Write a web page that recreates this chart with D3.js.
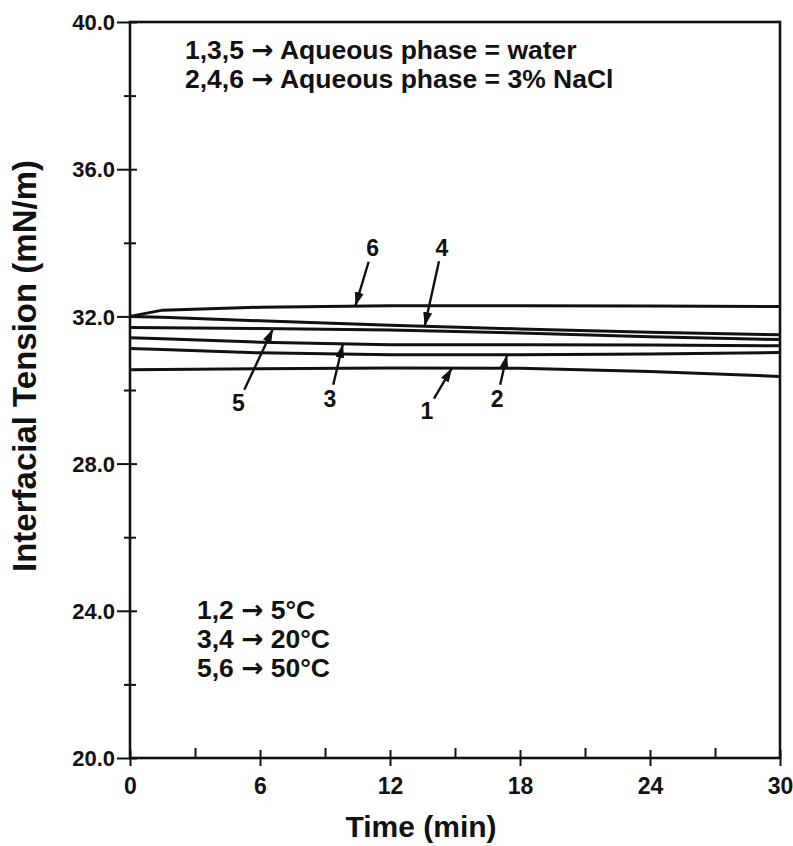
<!DOCTYPE html>
<html>
<head>
<meta charset="utf-8">
<script src="https://cdn.jsdelivr.net/npm/d3@7"></script>
<style>
  body { margin: 0; background: #fff; }
  text { font-family: "Liberation Sans", Arial, sans-serif; font-weight: bold; fill: #111; }
</style>
</head>
<body>
<script>
// time points (min)
const times = [0, 1.5, 6, 12, 18, 24, 30]
// interfacial tension (mN/m) per curve
const curve1 = [30.55, 30.56, 30.58, 30.60, 30.59, 30.50, 30.37]
const curve2 = [31.13, 31.10, 31.01, 30.96, 30.96, 30.98, 31.02]
const curve3 = [31.42, 31.39, 31.30, 31.23, 31.23, 31.22, 31.20]
const curve4 = [32.00, 31.98, 31.88, 31.76, 31.66, 31.57, 31.50]
const curve5 = [31.70, 31.69, 31.67, 31.63, 31.55, 31.45, 31.37]
const curve6 = [32.00, 32.17, 32.25, 32.29, 32.29, 32.28, 32.27]
const curves = [curve1, curve2, curve3, curve4, curve5, curve6]

// curve labels with arrows: tip time on the curve, label position (time, value)
const labelNames = ["1", "2", "3", "4", "5", "6"]
const tipTimes = [14.86, 17.4, 9.83, 13.6, 6.6, 10.4]
const labelTimes = [13.7, 16.94, 9.23, 14.4, 5.0, 11.2]
const labelValues = [29.44, 29.77, 29.77, 33.87, 29.66, 33.85]

const xMajor = [0, 6, 12, 18, 24, 30]
const xMinor = [3, 9, 15, 21, 27]
const yMajor = [20, 24, 28, 32, 36, 40]
const yMinor = [22, 26, 30, 34, 38]

const topNotes = ["1,3,5 \u2192 Aqueous phase = water", "2,4,6 \u2192 Aqueous phase = 3% NaCl"]
const bottomNotes = ["1,2 \u2192 5\u00B0C", "3,4 \u2192 20\u00B0C", "5,6 \u2192 50\u00B0C"]

const width = 793, height = 846
const margin = { top: 22, right: 13, bottom: 88, left: 130 }

const svg = d3.select("body").append("svg")
    .attr("width", width)
    .attr("height", height)

const x = d3.scaleLinear().domain([0, 30]).range([margin.left, width - margin.right])
const y = d3.scaleLinear().domain([20, 40]).range([height - margin.bottom, margin.top])

svg.append("defs").append("marker")
    .attr("id", "head")
    .attr("markerUnits", "userSpaceOnUse")
    .attr("viewBox", "0 -6 14 12")
    .attr("refX", 14).attr("refY", 0)
    .attr("markerWidth", 14).attr("markerHeight", 12)
    .attr("orient", "auto")
    .append("path")
    .attr("d", "M0,-4.5L14,0L0,4.5Z")
    .attr("fill", "#111")

// frame
svg.append("rect")
    .attr("x", x(0)).attr("y", y(40))
    .attr("width", x(30) - x(0)).attr("height", y(20) - y(40))
    .attr("fill", "none").attr("stroke", "#111").attr("stroke-width", 2.6)

// y axis
let yAxis = svg.append("g")
    .attr("transform", "translate(" + x(0) + ",0)")
    .call(d3.axisLeft(y).tickValues(yMajor).tickFormat(d3.format(".1f")).tickSize(13).tickPadding(2))
yAxis.select(".domain").remove()
yAxis.selectAll(".tick line").attr("x1", 7).attr("stroke-width", 2)
yAxis.selectAll("text").style("font-size", "22px").attr("dy", "0.35em")

let yMinorAxis = svg.append("g")
    .attr("transform", "translate(" + x(0) + ",0)")
    .call(d3.axisLeft(y).tickValues(yMinor).tickFormat("").tickSize(6))
yMinorAxis.select(".domain").remove()
yMinorAxis.selectAll(".tick line").attr("x1", 6).attr("stroke-width", 2)

// x axis
let xAxis = svg.append("g")
    .attr("transform", "translate(0," + y(20) + ")")
    .call(d3.axisBottom(x).tickValues(xMajor).tickFormat(d3.format("d")).tickSize(8).tickPadding(12))
xAxis.select(".domain").remove()
xAxis.selectAll(".tick line").attr("y1", -8).attr("stroke-width", 2)
xAxis.selectAll("text").style("font-size", "23px")

let xMinorAxis = svg.append("g")
    .attr("transform", "translate(0," + y(20) + ")")
    .call(d3.axisTop(x).tickValues(xMinor).tickFormat("").tickSize(10))
xMinorAxis.select(".domain").remove()
xMinorAxis.selectAll(".tick line").attr("stroke-width", 2)

svg.selectAll(".tick line").attr("stroke", "#111")

// axis titles
svg.append("text")
    .attr("x", 421)
    .attr("y", 837)
    .attr("text-anchor", "middle")
    .style("font-size", "30px")
    .text("Time (min)")

svg.append("text")
    .attr("transform", "translate(36,366) rotate(-90)")
    .attr("text-anchor", "middle")
    .style("font-size", "33px")
    .text("Interfacial Tension (mN/m)")

// curves
let line = d3.line()
    .x((d, i) => x(times[i]))
    .y(d => y(d))

svg.selectAll(".curve")
    .data(curves)
    .enter()
    .append("path")
    .attr("class", "curve")
    .attr("d", d => line(d))
    .attr("fill", "none")
    .attr("stroke", "#111")
    .attr("stroke-width", 3)

// value of a curve at time t (linear between points)
let valueAt = (values, t) => {
    let interp = d3.scaleLinear().domain(times).range(values)
    return interp(t)
}

// arrows + curve numbers
labelNames.forEach((name, i) => {
    let tx = x(tipTimes[i])
    let ty = y(valueAt(curves[i], tipTimes[i]))
    let lx = x(labelTimes[i])
    let ly = y(labelValues[i])
    let dx = tx - lx, dy = ty - ly
    let len = Math.sqrt(dx * dx + dy * dy)
    svg.append("line")
        .attr("x1", lx + dx / len * 14).attr("y1", ly + dy / len * 14)
        .attr("x2", tx).attr("y2", ty)
        .attr("stroke", "#111").attr("stroke-width", 2.4)
        .attr("marker-end", "url(#head)")
    svg.append("text")
        .attr("x", lx).attr("y", ly)
        .attr("dy", "0.35em")
        .attr("text-anchor", "middle")
        .style("font-size", "23px")
        .text(name)
})

// notes, with the arrow glyph taken from DejaVu (bigger head)
let writeNote = (sel) => {
    sel.each(function (d) {
        let parts = d.split("\u2192")
        let t = d3.select(this)
        t.append("tspan").text(parts[0])
        t.append("tspan").style("font-family", "'DejaVu Sans'").text("\u2192")
        t.append("tspan").text(parts[1])
    })
}

svg.selectAll(".topnote")
    .data(topNotes)
    .enter()
    .append("text")
    .attr("class", "topnote")
    .attr("x", 185)
    .attr("y", (d, i) => 59 + i * 29)
    .style("font-size", "26.5px")
    .call(writeNote)

svg.selectAll(".bottomnote")
    .data(bottomNotes)
    .enter()
    .append("text")
    .attr("class", "bottomnote")
    .attr("x", 197)
    .attr("y", (d, i) => 619 + i * 29)
    .style("font-size", "26.5px")
    .call(writeNote)
</script>
</body>
</html>
